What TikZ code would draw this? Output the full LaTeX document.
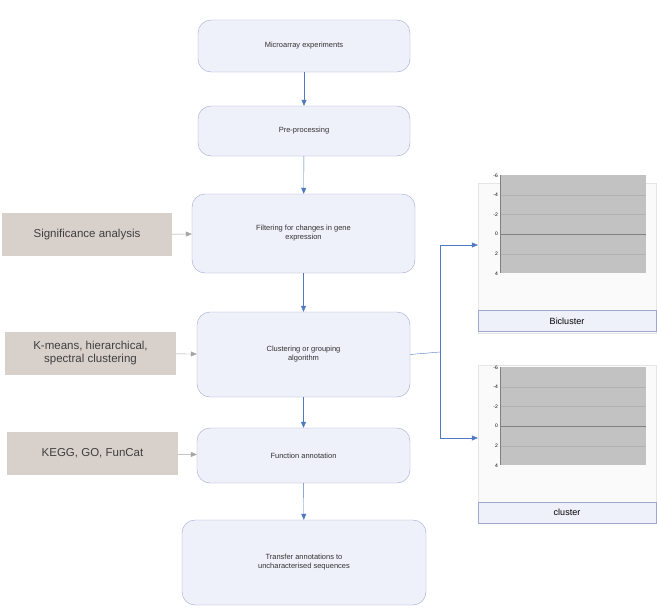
\documentclass[tikz,border=0pt]{standalone}
\usepackage{fontspec}
\setmainfont{Liberation Sans}
\usetikzlibrary{arrows.meta}
\definecolor{boxf}{HTML}{EEF0FA}
\definecolor{boxd}{HTML}{A0A8D2}
\definecolor{lf}{HTML}{D8D0CB}
\definecolor{arr}{HTML}{4F7AC2}
\definecolor{plotbg}{HTML}{C2C2C2}
\definecolor{sred}{HTML}{E83A3A}
\definecolor{sdark}{HTML}{1F2A7A}
\definecolor{sblue}{HTML}{5A7FE8}
\definecolor{scyan}{HTML}{3FD0F0}
\tikzset{
 main/.style={draw=boxd,fill=boxf,rounded corners=13pt,align=center,font=\fontsize{7.5}{9}\selectfont,text=black!80},
 left/.style={fill=lf,align=center,font=\fontsize{11.5}{13}\selectfont,text=black!75,inner sep=0pt},
 flow/.style={draw=arr,-{Triangle[length=6pt,width=5pt]}},
 side/.style={draw=gray!70,-{Triangle[length=6pt,width=5pt]}},
 ser/.style={line width=0.4pt},
 mk/.style={circle,inner sep=0pt,minimum size=4pt}
}
\begin{document}
\begin{tikzpicture}[x=1pt,y=-1pt]
\useasboundingbox[fill=white] (0,0) rectangle (657,613);
\node[main,minimum width=212pt,minimum height=52pt] (m1) at (304,46) {Microarray experiments};
\node[main,minimum width=212pt,minimum height=50pt] (m2) at (304,131) {Pre-processing};
\node[main,minimum width=223pt,minimum height=79pt] (m3) at (303.5,233.5) {Filtering for changes in gene\\expression};
\node[main,minimum width=213pt,minimum height=85pt] (m4) at (303.5,354.5) {Clustering or grouping\\algorithm};
\node[main,minimum width=213pt,minimum height=55pt] (m5) at (303.5,455.5) {Function annotation};
\node[main,minimum width=244pt,minimum height=85pt] (m6) at (304,562.5) {Transfer annotations to\\uncharacterised sequences};
\draw[flow] (m1) -- (m2);
\draw[flow] (m2) -- (m3);
\draw[flow] (m3) -- (m4);
\draw[flow] (m4) -- (m5);
\draw[flow] (m5) -- (m6);
\node[left,minimum width=170pt,minimum height=43pt] (l1) at (87,234.5) {Significance analysis};
\node[left,minimum width=171pt,minimum height=43pt] (l2) at (90.5,353.5) {K-means, hierarchical,\\spectral clustering};
\node[left,minimum width=171pt,minimum height=43pt] (l3) at (92.5,453.5) {KEGG, GO, FunCat};
\draw[side] (l1) -- (m3);
\draw[side] (l2) -- (m4);
\draw[side] (l3) -- (m5);
% chart panels
\node[draw=black!10,fill=black!2,minimum width=178pt,minimum height=150pt,inner sep=0pt] (p1) at (567,258) {};
\node[draw=black!10,fill=black!2,minimum width=178pt,minimum height=158pt,inner sep=0pt] (p2) at (567,444) {};
\node[draw=boxd,fill=boxf,minimum width=178pt,minimum height=21pt,font=\fontsize{9}{10}\selectfont] (b1) at (567,321) {Bicluster};
\node[draw=boxd,fill=boxf,minimum width=178pt,minimum height=21pt,font=\fontsize{9}{10}\selectfont] (b2) at (567,512.5) {cluster};
\coordinate (j) at (440,352);
\coordinate (jt) at (440,245);
\coordinate (jb) at (440,438);
\draw[arr] (m4.east) -- (j);
\draw[arr] (jt) -- (jb);
\draw[flow] (jt) -- (jt -| p1.west);
\draw[flow] (jb) -- (jb -| p2.west);
% plot 1
\foreach \oy/\pts in {234.2/{{-4.8,-3.2,0,0.1,2.4,0.2}/{-3.6,-2.4,0,-2.4,0,3.2}/{-3.2,-1.3,1.6,0,-2.4,-0.1}/{-3.2,-2.1,0,-0.2,0.2,2.9}},
 426.2/{{-4.8,-3.2,0,0.1,2.4,0.2}/{-3.7,-2.5,0,-0.8,3.3,-0.9}/{-3.2,-1.3,1.6,0,1.6,-0.1}/{-3.2,-2.1,0,-0.2,3.0,-1.1}}}{
 \begin{scope}[shift={(0,\oy)},y=-9.8pt]
  \fill[plotbg] (500,-6) rectangle (646,4);
  \foreach \g in {-4,-2,2}{\draw[black!30,line width=0.3pt] (500,\g) -- (646,\g);}
  \draw[black!50,line width=0.4pt] (500,0) -- (646,0);
  \draw[black!50,line width=0.4pt] (500,-6) -- (500,4);
  \foreach \g in {-6,-4,...,4}{\node[font=\fontsize{5}{6}\selectfont,anchor=east,inner sep=1pt] at (499,\g) {\g};}
  \foreach [count=\k] \c in {sred,sdark,sblue,scyan}{
   \foreach [count=\i] \v in {-9,-9,-9,-9,-9,-9}{}
  }
 \end{scope}}
\end{tikzpicture}
\end{document}
